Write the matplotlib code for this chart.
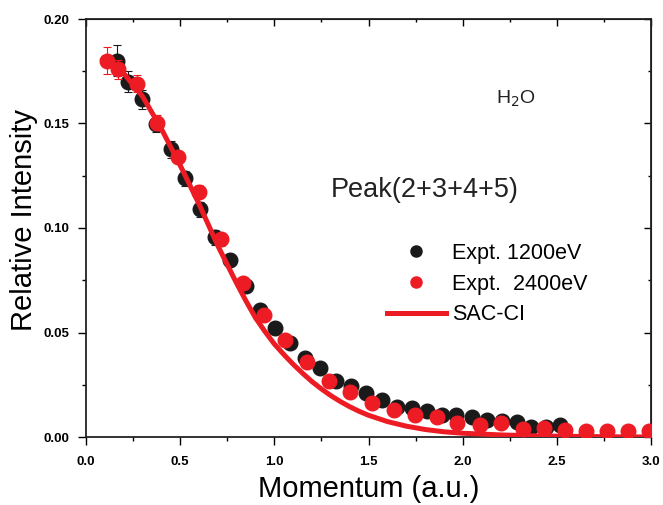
import matplotlib.pyplot as plt
from matplotlib.ticker import MultipleLocator
from matplotlib.lines import Line2D

plt.rcParams['font.family'] = ['Liberation Sans', 'DejaVu Sans']

# Expt. 1200eV (black)
x_1200 = [0.163, 0.223, 0.296, 0.372, 0.450, 0.526, 0.605, 0.685, 0.765, 0.850,
          0.924, 1.004, 1.083, 1.163, 1.243, 1.328, 1.406, 1.487, 1.570, 1.650,
          1.730, 1.810, 1.889, 1.965, 2.048, 2.128, 2.207, 2.287, 2.363, 2.443, 2.517]
y_1200 = [0.180, 0.170, 0.1616, 0.150, 0.1377, 0.1238, 0.109, 0.0955, 0.0847, 0.0722,
          0.0608, 0.052, 0.0449, 0.0376, 0.0329, 0.0269, 0.0244, 0.0212, 0.0177, 0.0145,
          0.0137, 0.0126, 0.0105, 0.0103, 0.0097, 0.0081, 0.0075, 0.0073, 0.0049, 0.0049, 0.0057]
e_1200 = [0.0075, 0.005, 0.0045, 0.004, 0.004, 0.0035, 0.0035, 0.0035, 0.003, 0.003,
          0.003, 0.0025, 0.0025, 0.002, 0.002, 0.002, 0.002, 0.002, 0.002, 0.002,
          0.002, 0.002, 0.002, 0.002, 0.002, 0.002, 0.002, 0.002, 0.002, 0.002, 0.002]

# Expt. 2400eV (red)
x_2400 = [0.110, 0.168, 0.269, 0.379, 0.490, 0.600, 0.715, 0.832, 0.945, 1.057,
          1.175, 1.290, 1.402, 1.517, 1.636, 1.747, 1.862, 1.968, 2.090, 2.204,
          2.319, 2.432, 2.544, 2.655, 2.765, 2.880, 2.990]
y_2400 = [0.180, 0.176, 0.169, 0.1504, 0.134, 0.1174, 0.0946, 0.0738, 0.0584, 0.0464,
          0.0357, 0.0269, 0.0217, 0.0161, 0.0129, 0.0105, 0.0094, 0.0068, 0.0057, 0.0065,
          0.0037, 0.0042, 0.0033, 0.003, 0.003, 0.003, 0.003]
e_2400 = [0.0065, 0.0045, 0.004, 0.0035, 0.003, 0.003, 0.003, 0.0025, 0.0025, 0.002,
          0.002, 0.002, 0.002, 0.002, 0.002, 0.002, 0.002, 0.002, 0.002, 0.002,
          0.002, 0.002, 0.002, 0.002, 0.002, 0.002, 0.002]

# SAC-CI theory
x_sac = [0.09, 0.2, 0.3, 0.4, 0.5, 0.6, 0.7, 0.8, 0.85, 0.9, 0.95, 1.0, 1.05, 1.1,
         1.15, 1.2, 1.25, 1.3, 1.35, 1.4, 1.45, 1.5, 1.6, 1.7, 1.8, 1.9, 2.0,
         2.2, 2.4, 2.6, 2.8, 3.0]
y_sac = [0.181, 0.174, 0.163, 0.1475, 0.130, 0.1115, 0.0915, 0.0735, 0.065, 0.057,
         0.0505, 0.0445, 0.0395, 0.0348, 0.0305, 0.0265, 0.0230, 0.0198, 0.0170,
         0.0145, 0.0123, 0.0104, 0.0074, 0.0052, 0.0036, 0.0025, 0.0018,
         0.0010, 0.0005, 0.0003, 0.0001, 0.0]

red = '#ed1c24'
blk = '#1a1a1a'

fig = plt.figure(figsize=(6.63, 5.05), dpi=100)
ax = fig.add_axes([86/663, 68/505, 565/663, 418/505])

ax.errorbar(x_1200, y_1200, yerr=e_1200, fmt='o', color=blk, ms=10.5,
            ecolor=blk, elinewidth=0.8, capsize=3, capthick=0.8, zorder=2)
ax.plot(x_sac, y_sac, '-', color=red, lw=3.6, zorder=3)
ax.errorbar(x_2400, y_2400, yerr=e_2400, fmt='o', color=red, ms=10.5,
            ecolor=red, elinewidth=0.8, capsize=3, capthick=0.8, zorder=4)

ax.set_xlim(0, 3.0)
ax.set_ylim(0, 0.20)
ax.xaxis.set_major_locator(MultipleLocator(0.5))
ax.xaxis.set_minor_locator(MultipleLocator(0.25))
ax.yaxis.set_major_locator(MultipleLocator(0.05))
ax.yaxis.set_minor_locator(MultipleLocator(0.025))
ax.xaxis.set_major_formatter(plt.FormatStrFormatter('%.1f'))
ax.yaxis.set_major_formatter(plt.FormatStrFormatter('%.2f'))

ax.tick_params(which='both', direction='out', top=False, right=False, width=1.0)
ax.tick_params(which='major', length=6, labelsize=9.5, pad=6)
ax.tick_params(which='minor', length=3)
ax.tick_params(axis='x', which='major', pad=8)
for lbl in ax.get_xticklabels() + ax.get_yticklabels():
    lbl.set_fontweight('bold')

ax2 = ax.secondary_xaxis('top')
ax2.xaxis.set_major_locator(MultipleLocator(0.5))
ax2.xaxis.set_minor_locator(MultipleLocator(0.25))
ax2.tick_params(which='both', direction='in', labeltop=False, width=1.0)
ax2.tick_params(which='major', length=5)
ax2.tick_params(which='minor', length=2.5)
ay2 = ax.secondary_yaxis('right')
ay2.yaxis.set_major_locator(MultipleLocator(0.05))
ay2.yaxis.set_minor_locator(MultipleLocator(0.025))
ay2.tick_params(which='both', direction='in', labelright=False, width=1.0)
ay2.tick_params(which='major', length=5)
ay2.tick_params(which='minor', length=2.5)

for s in ax.spines.values():
    s.set_linewidth(1.3)
    s.set_color('#222222')

ax.set_xlabel('Momentum (a.u.)', fontsize=21)
ax.set_ylabel('Relative Intensity', fontsize=21)
ax.xaxis.set_label_coords(0.5, -0.09)
ax.yaxis.set_label_coords(-0.085, 0.52)

ax.text(2.28, 0.162, 'H$_2$O', fontsize=14, ha='center', va='center',
        color='#222222')
ax.text(1.80, 0.118, 'Peak(2+3+4+5)', fontsize=19.5, ha='center', va='center',
        color='#222222')

handles = [Line2D([], [], ls='none', marker='o', ms=8, color=blk),
           Line2D([], [], ls='none', marker='o', ms=8, color=red),
           Line2D([], [], ls='-', lw=3.6, color=red)]
labels = ['Expt. 1200eV', 'Expt.  2400eV', 'SAC-CI']
ax.legend(handles, labels, loc='upper left',
          bbox_to_anchor=((387 - 86) / 565, (437 - 243) / 418),
          frameon=False, fontsize=15.5, handlelength=2.74, handletextpad=0.28,
          labelspacing=0.45, borderpad=0, borderaxespad=0)

fig.savefig('out.png', dpi=100)
